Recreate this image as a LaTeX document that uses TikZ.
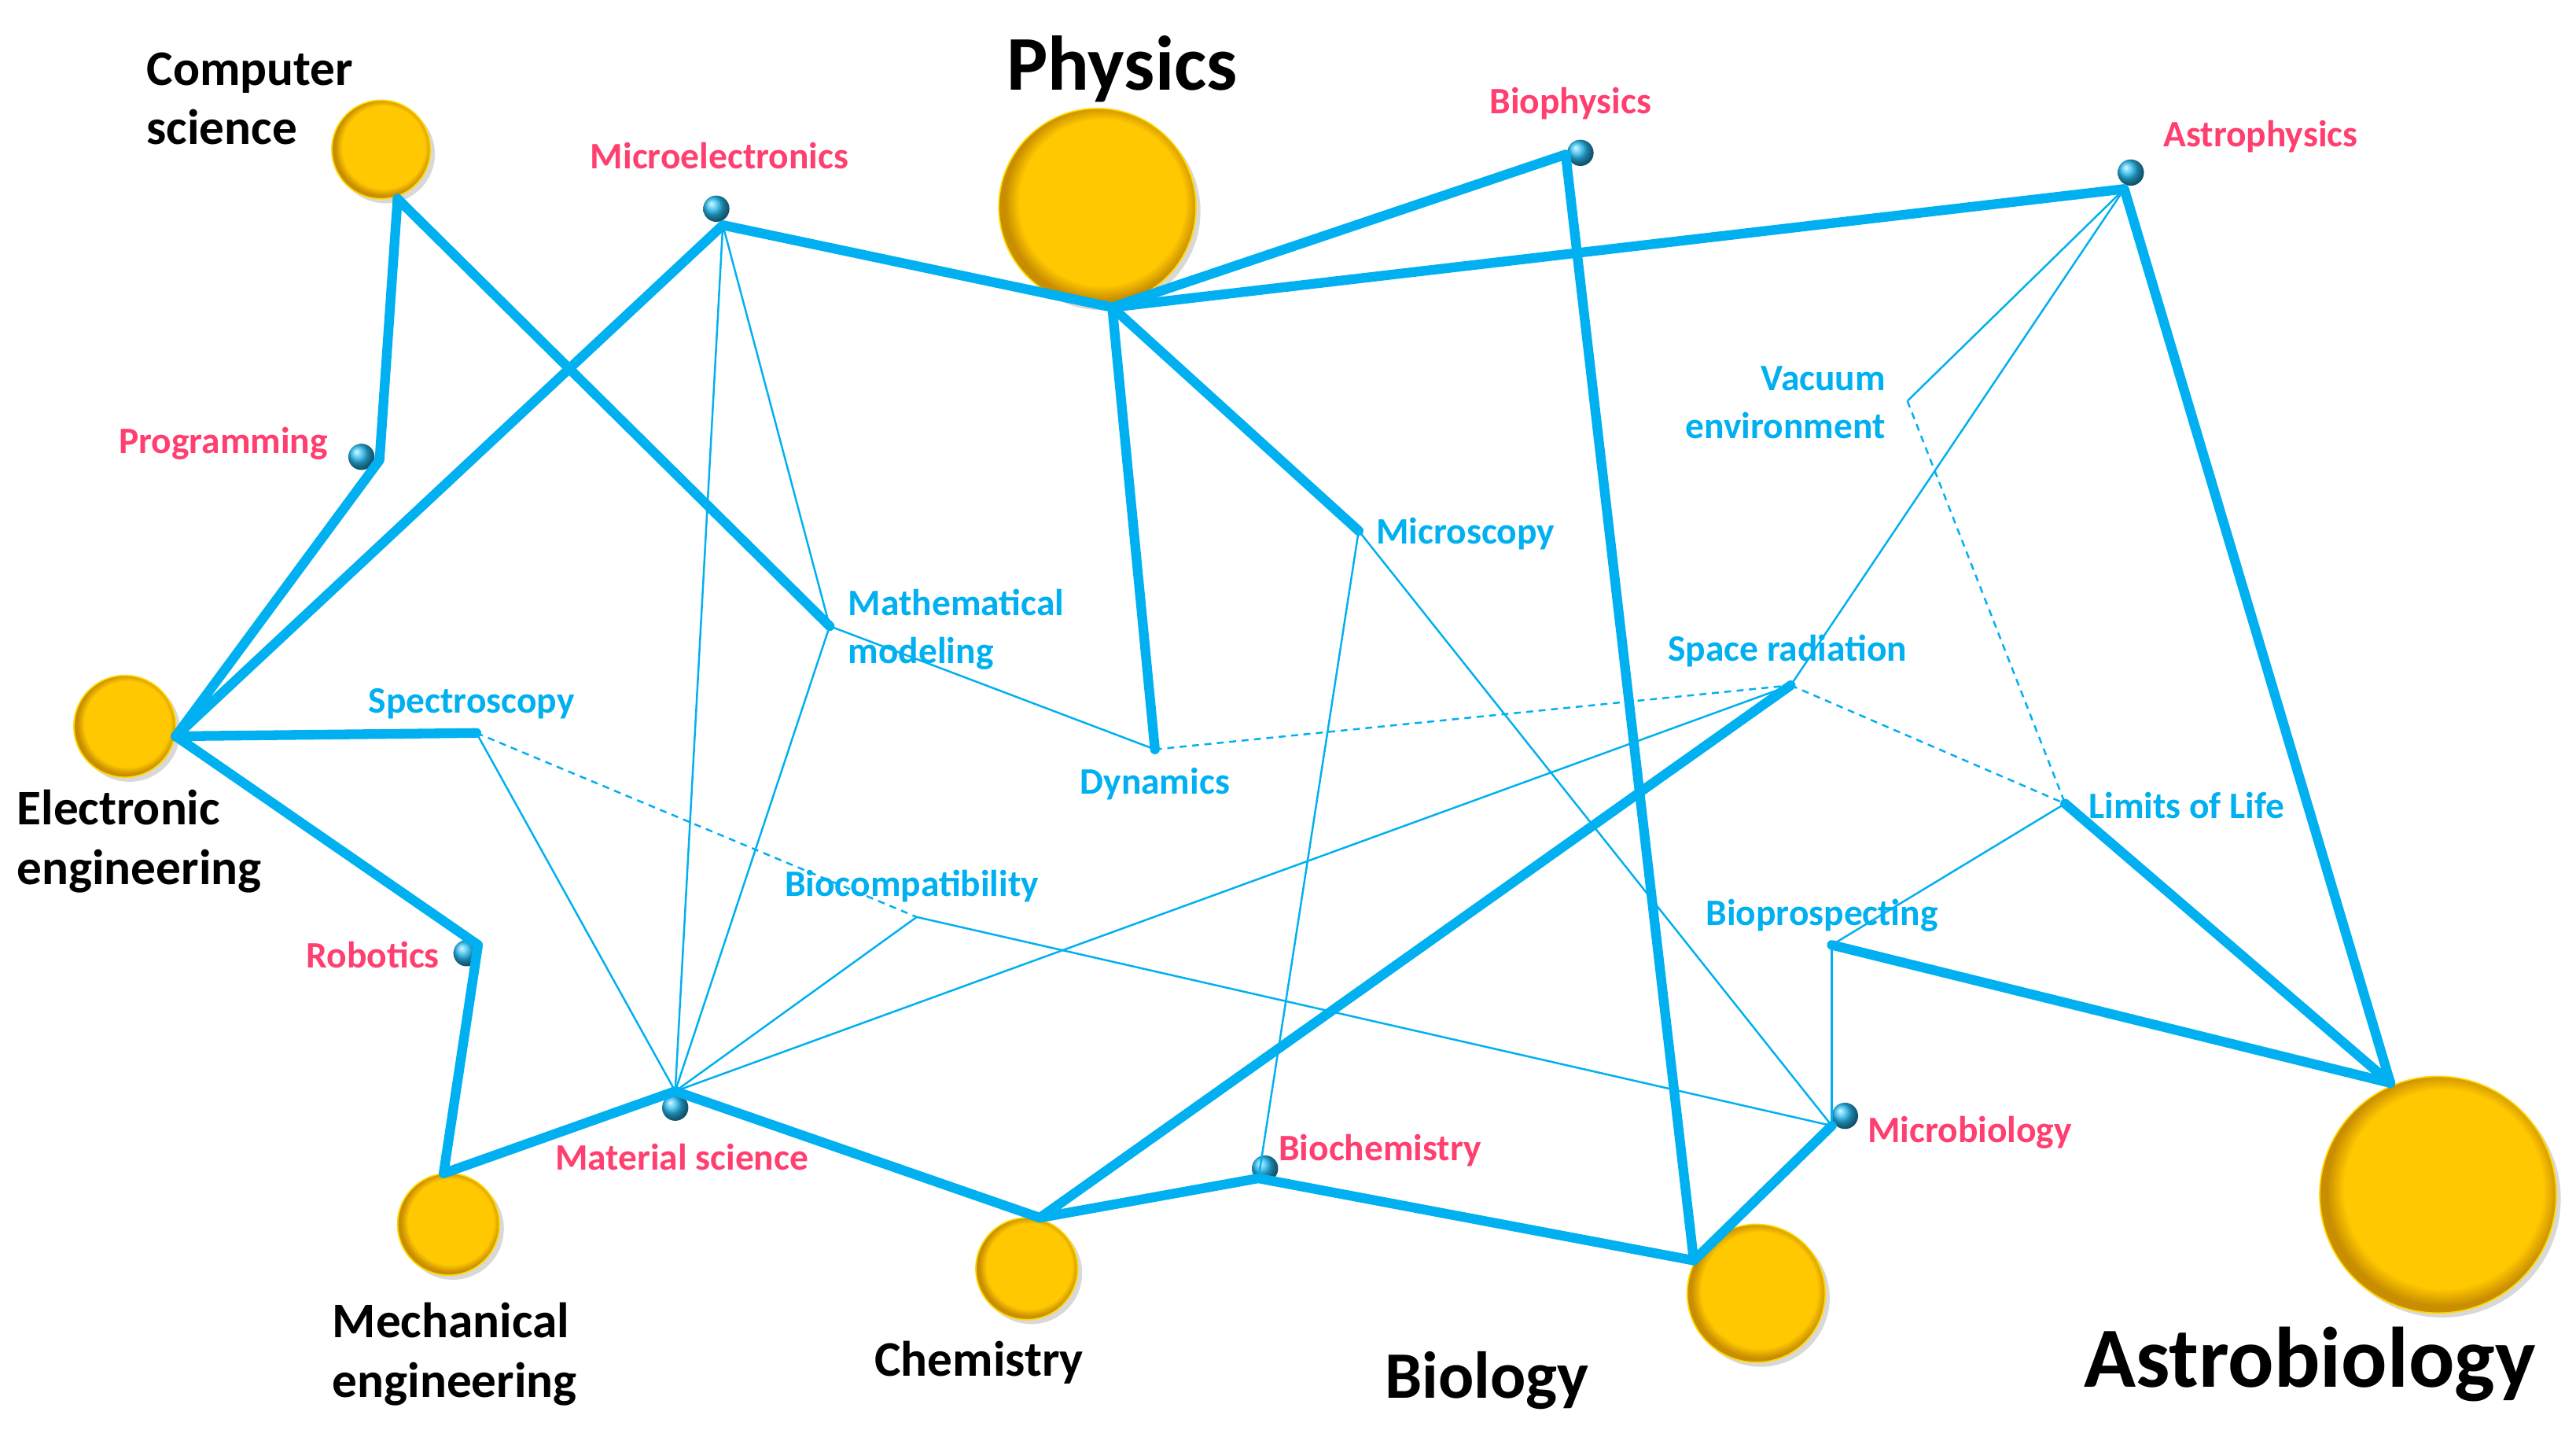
\documentclass[tikz,border=0pt]{standalone}
\usepackage{fontspec}
\setmainfont{Carlito}
\usetikzlibrary{shadows}
\definecolor{lineblue}{HTML}{00B0F0}
\definecolor{pinklbl}{HTML}{FF3F6F}
\definecolor{goldfill}{HTML}{FFC800}
\definecolor{goldedge}{HTML}{C98E00}
\definecolor{goldlight}{HTML}{FFE000}
\pgfdeclareradialshading{goldball}{\pgfpoint{2bp}{2bp}}{%
  color(0bp)=(goldfill); color(21bp)=(goldfill); color(24.5bp)=(goldedge); color(27bp)=(goldedge); color(50bp)=(goldedge)}
\begin{document}
\begin{tikzpicture}[x=0.020893cm, y=-0.020893cm,
  bigball/.style={circle, shading=goldball, draw=goldlight!70!goldfill, line width=0.5pt, inner sep=0pt,
     minimum size={#1*2*0.59446pt},
     drop shadow={opacity=0.3, shadow xshift=1.6pt, shadow yshift=-1.6pt}},
  smallball/.style={circle, ball color=lineblue!85!white, inner sep=0pt, minimum size=9.5pt},
  thickedge/.style={draw=lineblue, line width=3.5pt, line cap=round, line join=round},
  thinedge/.style={draw=lineblue, line width=0.7pt},
  dashedge/.style={draw=lineblue, line width=0.7pt, dash pattern=on 2.5pt off 2pt},
  blacklbl/.style={font=\bfseries\fontsize{18}{21.5}\selectfont, text=black, inner sep=0pt},
  pinklabel/.style={font=\bfseries\fontsize{13.5}{16}\selectfont, text=pinklbl, inner sep=0pt},
  bluelabel/.style={font=\bfseries\fontsize{13.5}{17.5}\selectfont, text=lineblue, inner sep=0pt}
]
\useasboundingbox[fill=white] (0,0) rectangle (1568,869.7);

% big yellow balls
\node[bigball=30] (CSball) at (232,91) {};
\node[bigball=60] (PHball) at (668,126) {};
\node[bigball=31] (EEball) at (76,442) {};
\node[bigball=31] (MEball) at (273,745) {};
\node[bigball=31] (CHball) at (625,772) {};
\node[bigball=42] (BIball) at (1069,787) {};
\node[bigball=72] (ABball) at (1484,727) {};

% small blue spheres
\node[smallball] (s-micro) at (436,127) {};
\node[smallball] (s-prog) at (220,278) {};
\node[smallball] (s-bioph) at (962,93) {};
\node[smallball] (s-astroph) at (1297,105) {};
\node[smallball] (s-rob) at (284,580) {};
\node[smallball] (s-mat) at (411,674) {};
\node[smallball] (s-biochem) at (770,711) {};
\node[smallball] (s-microb) at (1123,679) {};

% junction points
\coordinate (cs) at (242,121);
\coordinate (prog) at (231,280);
\coordinate (ee) at (107,448);
\coordinate (micro) at (440,137);
\coordinate (phy) at (677,187);
\coordinate (bioph) at (953,94);
\coordinate (astroph) at (1293,115);
\coordinate (spec) at (290,446);
\coordinate (rob) at (291,575);
\coordinate (mech) at (270,714);
\coordinate (mat) at (411,664);
\coordinate (chem) at (633,741);
\coordinate (biochem) at (766,717);
\coordinate (bio) at (1031,767);
\coordinate (microb) at (1115,685);
\coordinate (astro) at (1455,659);
\coordinate (math) at (505,381);
\coordinate (dyn) at (703,456);
\coordinate (mscope) at (827,323);
\coordinate (srad) at (1090,417);
\coordinate (vac) at (1161,244);
\coordinate (lim) at (1257,489);
\coordinate (bpros) at (1115,575);
\coordinate (bcomp) at (558,558);

% thin connectors
\draw[thinedge] (micro) -- (mat);
\draw[thinedge] (micro) -- (math);
\draw[thinedge] (math) -- (mat);
\draw[thinedge] (math) -- (dyn);
\draw[thinedge] (spec) -- (mat);
\draw[thinedge] (bcomp) -- (mat);
\draw[thinedge] (bcomp) -- (microb);
\draw[thinedge] (mscope) -- (biochem);
\draw[thinedge] (mscope) -- (microb);
\draw[thinedge] (mat) -- (srad);
\draw[thinedge] (astroph) -- (vac);
\draw[thinedge] (astroph) -- (srad);
\draw[thinedge] (lim) -- (bpros);
\draw[thinedge] (bpros) -- (microb);

% dashed connectors
\draw[dashedge] (spec) -- (bcomp);
\draw[dashedge] (dyn) -- (srad);
\draw[dashedge] (srad) -- (lim);
\draw[dashedge] (vac) -- (lim);

% thick connectors
\draw[thickedge] (cs) -- (prog) -- (ee);
\draw[thickedge] (cs) -- (math);
\draw[thickedge] (ee) -- (micro) -- (phy);
\draw[thickedge] (phy) -- (bioph) -- (bio);
\draw[thickedge] (phy) -- (astroph) -- (astro);
\draw[thickedge] (phy) -- (dyn);
\draw[thickedge] (phy) -- (mscope);
\draw[thickedge] (ee) -- (spec);
\draw[thickedge] (ee) -- (rob) -- (mech) -- (mat) -- (chem);
\draw[thickedge] (chem) -- (srad);
\draw[thickedge] (chem) -- (biochem) -- (bio) -- (microb);
\draw[thickedge] (lim) -- (astro);
\draw[thickedge] (bpros) -- (astro);

% black labels
\node[blacklbl, align=left, anchor=west] (L-cs) at (89,60) {Computer\\science};
\node[blacklbl, font=\bfseries\fontsize{28}{32}\selectfont] (L-phy) at (683,42) {Physics};
\node[blacklbl, align=left, anchor=west] (L-ee) at (10,512) {Electronic\\engineering};
\node[blacklbl, align=left, anchor=west] (L-me) at (202,824) {Mechanical\\engineering};
\node[blacklbl] (L-ch) at (596,829) {Chemistry};
\node[blacklbl, font=\bfseries\fontsize{24}{28}\selectfont] (L-bi) at (905,840) {Biology};
\node[blacklbl, font=\bfseries\fontsize{31}{36}\selectfont] (L-ab) at (1406,830) {Astrobiology};

% pink labels
\node[pinklabel] (L-micro) at (438,95) {Microelectronics};
\node[pinklabel] (L-bioph) at (956,63) {Biophysics};
\node[pinklabel] (L-astroph) at (1376,83) {Astrophysics};
\node[pinklabel] (L-prog) at (136,270) {Programming};
\node[pinklabel] (L-rob) at (227,581) {Robotics};
\node[pinklabel] (L-mat) at (415,704) {Material science};
\node[pinklabel] (L-biochem) at (840,700) {Biochemistry};
\node[pinklabel] (L-microb) at (1199,689) {Microbiology};

% blue labels
\node[bluelabel, align=left, anchor=west] (L-math) at (516,383) {Mathematical\\modeling};
\node[bluelabel] (L-spec) at (287,428) {Spectroscopy};
\node[bluelabel] (L-dyn) at (703,477) {Dynamics};
\node[bluelabel] (L-mscope) at (892,325) {Microscopy};
\node[bluelabel, align=right, anchor=east] (L-vac) at (1148,245) {Vacuum\\environment};
\node[bluelabel] (L-srad) at (1088,396) {Space radiation};
\node[bluelabel] (L-lim) at (1331,490) {Limits of Life};
\node[bluelabel] (L-bpros) at (1109,557) {Bioprospecting};
\node[bluelabel] (L-bcomp) at (555,539) {Biocompatibility};
\end{tikzpicture}
\end{document}
